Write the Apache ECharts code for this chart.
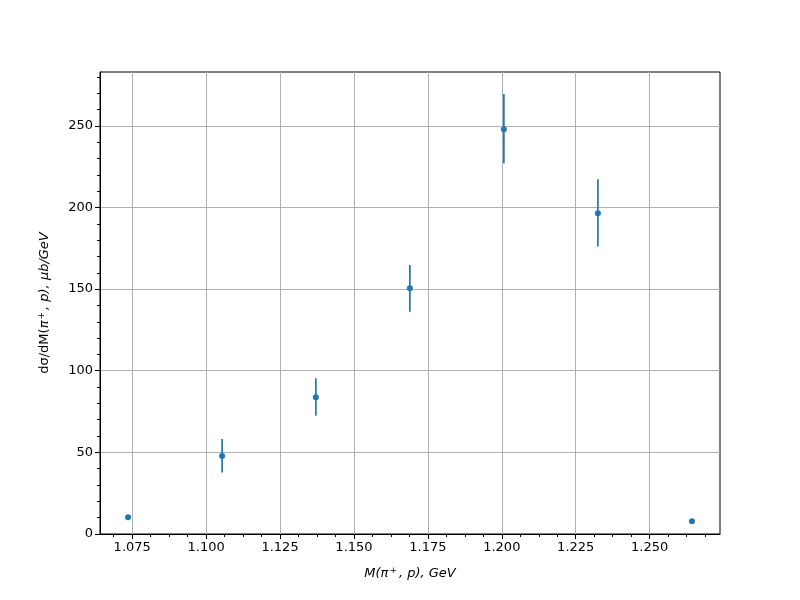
<!DOCTYPE html>
<html><head><meta charset="utf-8">
<script src="https://cdn.jsdelivr.net/npm/echarts@6/dist/echarts.min.js"></script>
<style>html,body{margin:0;padding:0;background:#fff}#c{width:800px;height:600px}</style>
</head><body><div id="c"></div>
<script>
const massValues = [1.0736, 1.1054, 1.1371, 1.1689, 1.2007, 1.2325, 1.2643];
const xsecValues = [10.2, 47.8, 83.8, 150.5, 248.0, 196.5, 7.8];
const errLow = [9.4, 37.6, 72.5, 136.2, 227.1, 176.1, 7.0];
const errHigh = [11.0, 58.2, 95.4, 164.8, 269.6, 217.3, 8.6];
const xTickLabels = [1.075, 1.100, 1.125, 1.150, 1.175, 1.200, 1.225, 1.250];
const xMinorTicks = [];
for (let i = 0; i < 34; i++) { const v = 1.06875 + i * 0.00625; if (v < 1.2738) xMinorTicks.push(+v.toFixed(5)); }
const yTickLabels = [0, 50, 100, 150, 200, 250];

const X_MIN = 1.0641, X_MAX = 1.2738, Y_MIN = 0, Y_MAX = 283;
const font = 'DejaVu Sans';
const chart = echarts.init(document.getElementById('c'));
const pts = massValues.map((x, i) => [x, xsecValues[i]]);
const errs = massValues.map((x, i) => [x, errLow[i], errHigh[i]]);

chart.setOption({
  animation: false,
  grid: { left: 100, right: 80, top: 72, bottom: 66, show: true, borderColor: '#000', borderWidth: 1, backgroundColor: 'transparent' },
  xAxis: [{
    type: 'value', min: X_MIN, max: X_MAX,
    axisLine: { show: true, lineStyle: { color: '#000', width: 1 } },
    axisTick: { show: true, inside: false, length: 5, lineStyle: { color: '#000' }, customValues: xTickLabels },
    axisLabel: { show: true, color: '#000', fontFamily: font, fontSize: 13, margin: 7, customValues: xTickLabels, formatter: v => v.toFixed(3) },
    splitLine: { show: true, lineStyle: { color: '#b0b0b0', width: 1 } },
    name: '{i|M(π}{sup|+}{i|, p), GeV}',
    nameLocation: 'middle', nameGap: 32,
    nameTextStyle: { rich: {
      i: { fontFamily: font, fontStyle: 'italic', fontSize: 13, color: '#000' },
      sup: { fontFamily: font, fontStyle: 'italic', fontSize: 9, color: '#000', verticalAlign: 'top', padding: [0, 2, 6, 1] }
    } }
  }, {
    type: 'value', min: X_MIN, max: X_MAX, position: 'bottom',
    axisLine: { show: false },
    axisTick: { show: true, length: 3, lineStyle: { color: '#000' }, customValues: xMinorTicks },
    axisLabel: { show: false, customValues: xMinorTicks },
    splitLine: { show: false }
  }],
  yAxis: {
    type: 'value', min: Y_MIN, max: Y_MAX,
    axisLine: { show: true, lineStyle: { color: '#000', width: 1 } },
    axisTick: { show: true, length: 5, lineStyle: { color: '#000' }, customValues: yTickLabels },
    axisLabel: { color: '#000', fontFamily: font, fontSize: 13, margin: 7, customValues: yTickLabels },
    splitLine: { show: true, lineStyle: { color: '#b0b0b0', width: 1 } },
    minorTick: { show: true, splitNumber: 5, length: 3, lineStyle: { color: '#000' } },
    interval: 50,
    name: '{n|dσ/dM(}{i|π}{sup|+}{i|, p), μb/GeV}',
    nameLocation: 'middle', nameGap: 48, nameRotate: 90,
    nameTextStyle: { rich: {
      n: { fontFamily: font, fontSize: 13, color: '#000' },
      i: { fontFamily: font, fontStyle: 'italic', fontSize: 13, color: '#000' },
      sup: { fontFamily: font, fontStyle: 'italic', fontSize: 9, color: '#000', verticalAlign: 'top', padding: [0, 2, 6, 1] }
    } }
  },
  series: [{
    type: 'custom', xAxisIndex: 0,
    data: errs,
    renderItem: (params, api) => {
      const a = api.coord([api.value(0), api.value(1)]);
      const b = api.coord([api.value(0), api.value(2)]);
      return { type: 'line', shape: { x1: a[0], y1: a[1], x2: b[0], y2: b[1] }, style: { stroke: '#1f77b4', lineWidth: 1.7 } };
    },
    z: 3
  }, {
    type: 'scatter', xAxisIndex: 0, data: pts, symbol: 'circle', symbolSize: 6,
    itemStyle: { color: '#1f77b4', opacity: 1 }, z: 4
  }]
});
</script></body></html>
